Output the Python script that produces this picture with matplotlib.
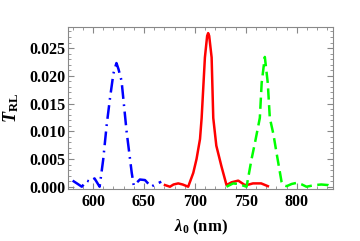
import matplotlib
matplotlib.use("Agg")
import matplotlib.pyplot as plt
from matplotlib.ticker import MultipleLocator, FormatStrFormatter

plt.rcParams['mathtext.fontset'] = 'custom'
plt.rcParams['mathtext.rm'] = 'Liberation Serif:bold'
plt.rcParams['mathtext.bf'] = 'Liberation Serif:bold'
plt.rcParams['mathtext.it'] = 'Liberation Serif:italic:bold'
plt.rcParams['mathtext.bfit'] = 'Liberation Serif:italic:bold'

# Blue (dash-dot)
blue_x = [580, 585, 589, 594, 597, 601.5, 606.5, 610, 613.4, 616.7, 620, 623, 625,
          628, 633, 638, 640, 646, 651, 657, 662, 667]
blue_y = [0.0011, 0.0005, 0.0000, 0.0011, 0.0009, 0.0015, 0.0000, 0.0049, 0.0111, 0.0160,
          0.0204, 0.0223, 0.0212, 0.0191, 0.0099, 0.0025, 0.0002, 0.0013, 0.0012, 0.0000,
          0.0005, 0.0009]

# Red (solid)
red_x = [670.6, 675.5, 679, 683.6, 688, 693.4, 698.4, 701.6, 705, 706.6, 709.8, 712, 713,
         714, 716.4, 718, 721, 726, 731, 736, 742.5, 749, 753, 757, 765, 771.6]
red_y = [0.0003, 0.0000, 0.0004, 0.0006, 0.0004, 0.0000, 0.0025, 0.0050, 0.0086, 0.0124,
         0.0233, 0.0272, 0.0277, 0.0272, 0.0233, 0.0124, 0.0074, 0.0037, 0.0003, 0.0008,
         0.0011, 0.0003, 0.0004, 0.0006, 0.0006, 0.0001]

# Green (dashed)
green_x = [731, 737.5, 742, 745.8, 750.7, 755.6, 759, 763.7, 765.5, 768.6, 771.5, 773.5,
           777, 780, 785, 786.5, 790, 795, 800, 805, 809.5, 817.6, 824, 830.7, 834]
green_y = [0.0000, 0.0006, 0.0005, 0.0003, 0.0000, 0.0050, 0.0080, 0.0124, 0.0187, 0.0234,
           0.0187, 0.0124, 0.0095, 0.0062, 0.0009, 0.0003, 0.0001, 0.0005, 0.0007, 0.0004,
           0.0000, 0.0003, 0.0004, 0.0003, 0.0000]

xticks = [600, 650, 700, 750, 800]
yticks = [0.000, 0.005, 0.010, 0.015, 0.020, 0.025]

fig = plt.figure(figsize=(3.6, 2.41), dpi=100)
ax = fig.add_axes([0.189, 0.216, 0.736, 0.672])

lw = 1.8
ax.plot(blue_x, blue_y, color='#0000ff', lw=lw, linestyle=(0, (5.5, 2.2, 0.7, 2.2)))
ax.plot(red_x, red_y, color='#ff0000', lw=lw, linestyle='-')
ax.plot(green_x, green_y, color='#00ff00', lw=lw, linestyle=(0, (4.5, 2.2)))

ax.set_xlim(575.5, 835.5)
ax.set_ylim(-0.0004, 0.0288)

ax.set_xticks(xticks)
ax.set_yticks(yticks)
ax.xaxis.set_minor_locator(MultipleLocator(10))
ax.yaxis.set_minor_locator(MultipleLocator(0.001))
ax.yaxis.set_major_formatter(FormatStrFormatter('%.3f'))

ax.tick_params(which='both', direction='in', top=True, right=True, color='#888888')
ax.tick_params(which='major', length=4, width=0.8)
ax.tick_params(which='minor', length=2, width=0.6)
for lab in ax.get_xticklabels() + ax.get_yticklabels():
    lab.set_fontfamily('Liberation Serif')
    lab.set_fontweight('bold')
    lab.set_fontsize(11.5)
ax.tick_params(axis='x', pad=4)
ax.tick_params(axis='y', pad=2)

for s in ax.spines.values():
    s.set_color('#888888')
    s.set_linewidth(0.8)

ax.set_xlabel(r'$\mathbfit{\lambda}_{\mathbf{0}}$ (nm)', fontfamily='Liberation Serif',
              fontweight='bold', fontsize=12, labelpad=5)
ax.set_ylabel(r'$\mathbfit{T}_{\mathbf{RL}}$', fontfamily='Liberation Serif',
              fontweight='bold', fontsize=13, labelpad=6)

fig.savefig('out.png', dpi=100)
